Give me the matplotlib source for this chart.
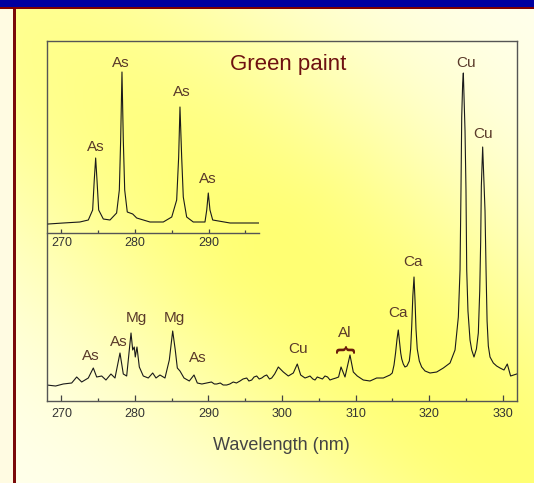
import numpy as np
import matplotlib
matplotlib.use("Agg")
import matplotlib.pyplot as plt
from matplotlib.patches import Rectangle
from matplotlib.ticker import MultipleLocator

plt.rcParams["font.family"] = ["Liberation Sans", "DejaVu Sans"]

# main spectrum (wavelength nm, intensity a.u.)
main_wl = [267.99, 269.2, 270.24, 271.39, 272.07, 272.75, 273.65, 274.33, 274.79, 275.47,
           276.05, 276.73, 277.28, 277.96, 278.41, 278.87, 279.46, 279.69, 279.90, 280.04,
           280.27, 280.59, 281.13, 281.81, 282.41, 282.86, 283.40, 284.08, 284.67, 285.13,
           285.48, 285.76, 286.12, 286.67, 287.39, 288.03, 288.48, 289.10, 289.76, 290.40,
           290.80, 291.12, 291.60, 292.00, 292.48, 292.90, 293.37, 293.80, 294.29, 294.70,
           295.20, 295.50, 295.88, 296.20, 296.56, 296.90, 297.24, 297.60, 297.92, 298.30,
           298.60, 299.00, 299.50, 300.18, 300.86, 301.54, 302.08, 302.54, 303.13, 303.50,
           303.81, 304.20, 304.49, 304.80, 305.17, 305.50, 305.85, 306.20, 306.53, 306.90,
           307.35, 307.70, 308.03, 308.57, 309.25, 309.70, 310.24, 311.06, 311.97, 312.88,
           313.78, 314.69, 315.00, 315.24, 315.45, 315.65, 315.82, 315.98, 316.15, 316.29,
           316.50, 316.73, 317.00, 317.32, 317.50, 317.65, 317.80, 317.96, 318.10, 318.23,
           318.40, 318.68, 319.00, 319.46, 320.14, 321.05, 321.95, 322.86, 323.54, 323.99,
           324.22, 324.35, 324.45, 324.58, 324.67, 324.78, 324.90, 325.03, 325.13, 325.30,
           325.58, 325.81, 326.12, 326.45, 326.71, 326.90, 327.03, 327.12, 327.30, 327.50,
           327.62, 327.76, 327.90, 328.07, 328.30, 328.75, 329.20, 329.66, 330.20, 330.65,
           331.10, 331.93]
main_int = [16, 15, 17, 18, 24, 19, 23, 33, 24, 25,
            21, 27, 23, 48, 27, 25, 68, 51, 54, 44,
            54, 34, 25, 23, 28, 23, 26, 23, 41, 70,
            51, 33, 30, 23, 20, 26, 18, 17, 18, 19,
            17, 17, 18, 16, 16, 17, 19, 18, 20, 22,
            23, 20, 21, 24, 25, 22, 23, 25, 26, 22,
            23, 27, 34, 29, 25, 28, 37, 26, 23, 24,
            25, 22, 21, 24, 23, 22, 25, 24, 21, 22,
            23, 24, 34, 24, 46, 29, 25, 21, 20, 23,
            23, 26, 28, 36, 48, 62, 71, 60, 48, 42,
            37, 34, 35, 40, 52, 75, 105, 124, 100, 72,
            52, 40, 34, 30, 28, 29, 33, 38, 51, 84,
            131, 211, 284, 318, 328, 300, 270, 211, 131, 90,
            61, 51, 44, 52, 68, 110, 160, 215, 254, 215,
            190, 131, 80, 55, 44, 38, 35, 33, 31, 37,
            25, 27]

# inset spectrum
inset_wl = [268.2, 270.24, 272.5, 273.65, 274.24, 274.46, 274.65, 274.83, 275.06, 275.69,
            276.6, 277.5, 277.87, 278.05, 278.23, 278.41, 278.6, 278.95, 279.69, 280.23,
            282.04, 283.85, 285.0, 285.67, 285.94, 286.12, 286.35, 286.57, 287.03, 287.93,
            289.52, 289.76, 289.97, 290.2, 290.57, 292.93, 295.2, 296.9]
inset_int = [9, 10, 11, 13, 23, 53, 75, 53, 23, 14,
             13, 20, 43, 93, 161, 93, 43, 21, 19, 15,
             11, 11, 16, 33, 76, 126, 76, 36, 16, 11,
             11, 23, 40, 23, 13, 10, 10, 10]

# peak labels (text, wavelength, height)
main_labels = [("As", 274.0, 45), ("As", 277.73, 59), ("Mg", 280.14, 83),
               ("Mg", 285.35, 83), ("As", 288.48, 43), ("Cu", 302.22, 52),
               ("Al", 308.57, 68), ("Ca", 315.82, 88), ("Ca", 317.78, 139),
               ("Cu", 325.03, 338), ("Cu", 327.3, 267)]
inset_labels = [("As", 274.65, 86), ("As", 278.1, 170), ("As", 286.35, 141), ("As", 289.9, 54)]

W, H = 534, 483
fig = plt.figure(figsize=(W / 100, H / 100), dpi=100)

# yellow gradient background
bg = fig.add_axes([0, 0, 1, 1], zorder=-10)
xx, yy = np.meshgrid(np.linspace(0, 1, 200), np.linspace(0, 1, 200))
u = xx - yy
s = np.exp(-(u / 0.55) ** 2) * (0.75 + 0.25 * np.clip(xx + yy, 0, 1))
img = np.zeros((200, 200, 3))
img[..., 0] = 1.0
img[..., 1] = 1.0
img[..., 2] = (240 - 125 * s) / 255
bg.imshow(img, extent=[0, 1, 0, 1], aspect="auto", origin="upper")
bg.set_xlim(0, 1)
bg.set_ylim(0, 1)
bg.axis("off")
bg.add_patch(Rectangle((0, 0), 12.7 / W, 1, color="#fffbe2", lw=0))
bg.add_patch(Rectangle((12.7 / W, 0), 3.3 / W, 1 - 7 / H, color="#7a0a0a", lw=0))
bg.add_patch(Rectangle((0, 1 - 9.3 / H), 1, 2.5 / H, color="#800000", lw=0))
bg.add_patch(Rectangle((0, 1 - 7 / H), 1, 7 / H, color="#0000a0", lw=0))

tick_col = "#333333"
lab_col = "#5a3a2a"

ax = fig.add_axes([46.7 / W, 82 / H, 470 / W, 360.3 / H])
ax.patch.set_alpha(0)
ax.plot(main_wl, main_int, color="#1a1a1a", lw=0.8)
ax.set_xlim(267.99, 331.93)
ax.set_ylim(0, 360.3)
ax.set_yticks([])
ax.xaxis.set_major_locator(MultipleLocator(10))
ax.xaxis.set_minor_locator(MultipleLocator(5))
ax.tick_params(axis="x", which="major", direction="in", length=4, width=0.9,
               labelsize=9, labelcolor=tick_col, color="#444444", pad=5)
ax.tick_params(axis="x", which="minor", direction="in", length=2, width=0.9, color="#444444")
for sp in ax.spines.values():
    sp.set_color("#555555")
    sp.set_linewidth(1.0)
ax.set_xlabel("Wavelength (nm)", fontsize=13, color="#444444", labelpad=12)

for t, x, y in main_labels:
    ax.text(x, y, t, fontsize=11, color=lab_col, ha="center", va="center")
ax.text(308.5, 52, "{", rotation=-90, fontsize=15, fontweight="bold",
        color="#6a1a0a", ha="center", va="center")
ax.text(300.8, 336.5, "Green paint", fontsize=16, color="#6e1010",
        ha="center", va="center")

ins = fig.add_axes([46.7 / W, 250 / H, 212.6 / W, 192.3 / H])
ins.patch.set_alpha(0)
ins.plot(inset_wl, inset_int, color="#1a1a1a", lw=0.8)
ins.set_xlim(267.99, 296.91)
ins.set_ylim(0, 192.3)
ins.set_yticks([])
ins.xaxis.set_major_locator(MultipleLocator(10))
ins.xaxis.set_minor_locator(MultipleLocator(5))
ins.tick_params(axis="x", which="major", direction="in", length=3, width=0.9,
                labelsize=9, labelcolor=tick_col, color="#444444", pad=3)
ins.tick_params(axis="x", which="minor", direction="in", length=2, width=0.9, color="#444444")
for name in ["top", "right", "left"]:
    ins.spines[name].set_visible(False)
ins.spines["bottom"].set_color("#555555")
ins.spines["bottom"].set_linewidth(1.0)
for t, x, y in inset_labels:
    ins.text(x, y, t, fontsize=11, color=lab_col, ha="center", va="center")

fig.savefig("out.png", dpi=100)
